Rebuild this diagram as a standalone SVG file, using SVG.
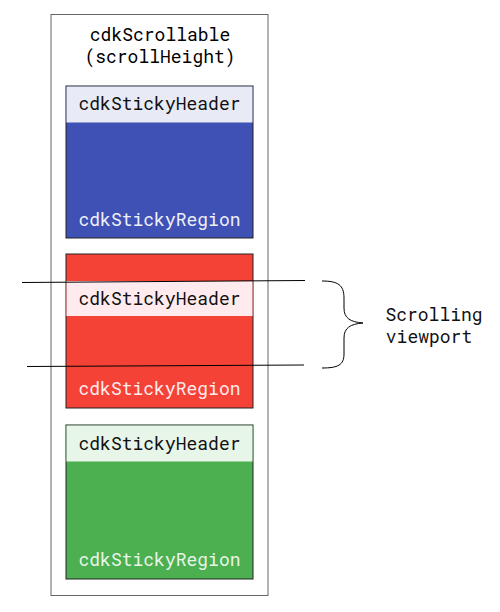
<svg xmlns="http://www.w3.org/2000/svg" width="500" height="612" viewBox="0 0 500 612">
<style>
text{font-family:"Roboto Mono","Liberation Mono","DejaVu Sans Mono",monospace;font-size:18px;text-anchor:middle}
.box{stroke:#222;stroke-width:1}
.hdr{fill:#111}
.ln{stroke:#000;stroke-width:1;fill:none}
</style>
<rect width="500" height="612" fill="#fff"/>
<g id="scrollable">
<rect x="51" y="14.5" width="217" height="581" fill="#fff" stroke="#666" stroke-width="1"/>
<text x="160" y="40.5">cdkScrollable</text>
<text x="160" y="63">(scrollHeight)</text>
</g>
<g id="region1">
<rect class="box" x="66" y="86" width="187" height="152" fill="#3f51b5"/>
<rect x="66.5" y="86.5" width="186" height="36" fill="#e8eaf6"/>
<text class="hdr" x="159.5" y="110">cdkStickyHeader</text>
<text x="159.5" y="226" fill="#eef0fa">cdkStickyRegion</text>
</g>
<g id="region2">
<rect class="box" x="66" y="254" width="187" height="154" fill="#f44336"/>
<rect x="66.5" y="281" width="186" height="35" fill="#ffebee"/>
<text class="hdr" x="159.5" y="305">cdkStickyHeader</text>
<text x="159.5" y="395" fill="#ffebee">cdkStickyRegion</text>
</g>
<g id="region3">
<rect class="box" x="66" y="425" width="187" height="154" fill="#4caf50"/>
<rect x="66.5" y="425.5" width="186" height="36" fill="#e8f5e9"/>
<text class="hdr" x="159.5" y="450">cdkStickyHeader</text>
<text x="159.5" y="566" fill="#e8f5e9">cdkStickyRegion</text>
</g>
<g id="connectors">
<line class="ln" x1="22" y1="282.5" x2="305" y2="280.5"/>
<line class="ln" x1="27" y1="366.5" x2="304" y2="365"/>
<path class="ln" d="M322 281 C338 281 344 285 344 298 L344 308 C344 318 350 322 363 323 C350 324 344 328 344 338 L344 354 C344 365 338 368 322 368"/>
</g>
<g id="label">
<text x="434" y="321" fill="#111">Scrolling</text>
<text x="429" y="343" fill="#111">viewport</text>
</g>
</svg>
